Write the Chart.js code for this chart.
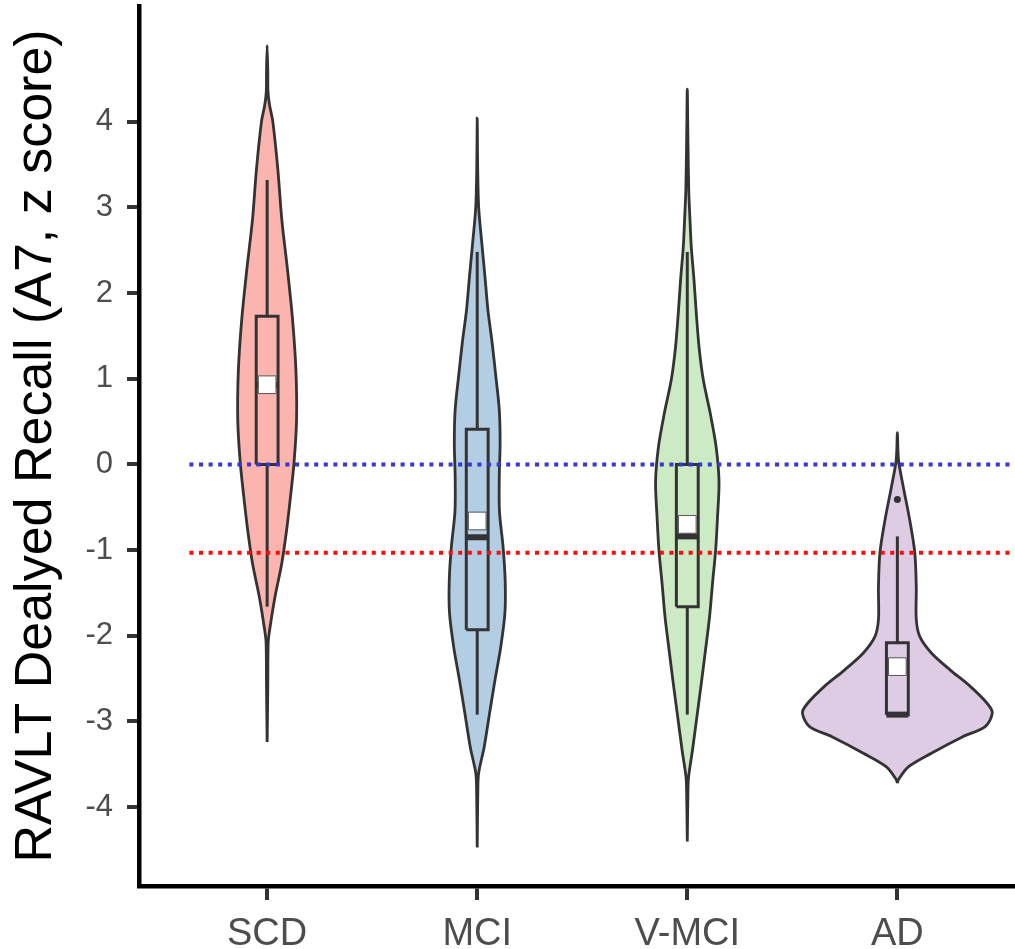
<!DOCTYPE html>
<html>
<head>
<meta charset="utf-8">
<script src="https://cdn.jsdelivr.net/npm/chart.js@4.4.1/dist/chart.umd.min.js"></script>
<style>
  html, body { margin: 0; padding: 0; background: #ffffff; overflow: hidden; }
  #wrap { width: 1015px; height: 949px; position: relative; overflow: hidden; }
  canvas { display: block; }
</style>
</head>
<body>
<div id="wrap"><canvas id="c" width="1015" height="949"></canvas></div>
<script>
// ---------------- data ----------------
const categories = ['SCD', 'MCI', 'V-MCI', 'AD'];
const yTicks = [-4, -3, -2, -1, 0, 1, 2, 3, 4];
const yTitle = 'RAVLT Dealyed Recall (A7, z score)';

// violin outlines: score levels (top to bottom) and density half-widths (category units)
const scdLevels = [4.89, 4.60, 4.35, 4.20, 4.00, 3.44, 2.85, 2.27, 1.69, 1.10, 0.52, 0.02, -0.38, -0.76, -1.15, -1.55, -1.93, -2.08, -2.60, -3.24];
const scdHalfWidth = [0, 0.003, 0.004, 0.011, 0.027, 0.051, 0.070, 0.097, 0.121, 0.137, 0.140, 0.128, 0.111, 0.093, 0.070, 0.037, 0.012, 0.005, 0.003, 0];

const mciLevels = [4.04, 3.50, 3.00, 2.58, 2.19, 1.80, 1.42, 1.02, 0.64, 0.25, -0.14, -0.55, -0.96, -1.35, -1.73, -2.13, -2.51, -2.90, -3.30, -3.60, -3.80, -4.47];
const mciHalfWidth = [0, 0.002, 0.007, 0.022, 0.037, 0.051, 0.071, 0.089, 0.105, 0.109, 0.105, 0.106, 0.123, 0.133, 0.132, 0.112, 0.085, 0.059, 0.033, 0.007, 0.003, 0];

const vmciLevels = [4.38, 3.80, 3.20, 2.90, 2.54, 2.15, 1.76, 1.37, 0.99, 0.60, 0.21, -0.20, -0.61, -1.00, -1.39, -1.78, -2.16, -2.55, -2.94, -3.33, -3.65, -3.85, -4.40];
const vmciHalfWidth = [0, 0.003, 0.007, 0.012, 0.019, 0.032, 0.043, 0.056, 0.076, 0.109, 0.137, 0.151, 0.144, 0.135, 0.120, 0.106, 0.087, 0.067, 0.046, 0.025, 0.006, 0.003, 0];

const adLevels = [0.37, 0.15, 0.02, -0.26, -0.65, -1.03, -1.43, -1.81, -2.01, -2.20, -2.40, -2.59, -2.79, -2.90, -3.06, -3.18, -3.37, -3.53, -3.68, -3.72];
const adHalfWidth = [0, 0.003, 0.007, 0.028, 0.059, 0.083, 0.090, 0.090, 0.107, 0.162, 0.252, 0.347, 0.428, 0.452, 0.418, 0.309, 0.162, 0.052, 0.005, 0];

// box-plot statistics per category
const boxQ1 = [0.00, -1.93, -1.66, -2.92];
const boxQ3 = [1.73, 0.41, 0.00, -2.08];
const boxMedian = [0.93, -0.85, -0.84, -2.92];
const boxMean = [0.93, -0.66, -0.70, -2.36];
const whiskerLow = [-1.66, -2.92, -2.92, -2.92];
const whiskerHigh = [3.32, 2.48, 2.48, -0.84];
const outlierCategory = [4];
const outlierValue = [-0.41];

// reference lines
const refLineValues = [0, -1.03];
const refLineStart = 0.63;
const refLineEnd = 4.56;

// ---------------- styles ----------------
const fills = ['#FBB4AE', '#B3CDE3', '#CCEBC5', '#DECBE4'];
const refColors = ['#3535d8', '#ff0a0a'];
const ink = '#333333';
const FONT = '"Liberation Sans", Arial, Helvetica, sans-serif';
const X_MIN = 0.39, X_MAX = 4.56, Y_MIN = -4.92, Y_MAX = 5.35;
const BOX_HALF = 0.052;

const violinLevels = [scdLevels, mciLevels, vmciLevels, adLevels];
const violinWidths = [scdHalfWidth, mciHalfWidth, vmciHalfWidth, adHalfWidth];

function violinPath(c, levels, widths) {
  const lv = levels.slice().reverse();
  const wd = widths.slice().reverse();
  const right = lv.map((y, i) => ({ x: c + wd[i], y: y }));
  const left = lv.map((y, i) => ({ x: c - wd[i], y: y })).reverse();
  return right.concat(left.slice(1));
}

const datasets = [];
categories.forEach((name, i) => {
  const c = i + 1;
  datasets.push({
    data: violinPath(c, violinLevels[i], violinWidths[i]),
    borderColor: ink, backgroundColor: fills[i], borderWidth: 2.8,
    fill: 'shape', tension: 0.3, pointRadius: 0, order: 10
  });
  datasets.push({
    data: [{ x: c, y: boxQ3[i] }, { x: c, y: whiskerHigh[i] }],
    borderColor: ink, backgroundColor: ink, borderWidth: 3, pointRadius: 0, fill: false, order: 9
  });
  datasets.push({
    data: [{ x: c, y: whiskerLow[i] }, { x: c, y: boxQ1[i] }],
    borderColor: ink, backgroundColor: ink, borderWidth: 3, pointRadius: 0, fill: false, order: 9
  });
  datasets.push({
    data: [
      { x: c - BOX_HALF, y: boxQ1[i] }, { x: c + BOX_HALF, y: boxQ1[i] },
      { x: c + BOX_HALF, y: boxQ3[i] }, { x: c - BOX_HALF, y: boxQ3[i] },
      { x: c - BOX_HALF, y: boxQ1[i] }
    ],
    borderColor: ink, backgroundColor: ink, borderWidth: 3, pointRadius: 0, fill: false, tension: 0,
    borderJoinStyle: 'miter', order: 8
  });
  datasets.push({
    data: [{ x: c - BOX_HALF, y: boxMedian[i] }, { x: c + BOX_HALF, y: boxMedian[i] }],
    borderColor: ink, backgroundColor: ink, borderWidth: 6, pointRadius: 0, fill: false, borderCapStyle: 'butt', order: 7
  });
  datasets.push({
    data: [{ x: c, y: boxMean[i] }],
    showLine: false, borderColor: '#555555', backgroundColor: '#ffffff', borderWidth: 0,
    pointStyle: 'rect', pointRadius: 12.5,
    pointBackgroundColor: '#ffffff', pointBorderColor: '#555555', pointBorderWidth: 1, order: 6
  });
});
datasets.push({
  data: outlierCategory.map((c, k) => ({ x: c, y: outlierValue[k] })),
  showLine: false, borderColor: ink, backgroundColor: ink, borderWidth: 0,
  pointStyle: 'circle', pointRadius: 3.5,
  pointBackgroundColor: ink, pointBorderColor: ink, pointBorderWidth: 0, order: 6
});
refLineValues.forEach((v, k) => {
  datasets.push({
    data: [{ x: refLineStart, y: v }, { x: refLineEnd, y: v }],
    borderColor: refColors[k], backgroundColor: refColors[k], borderWidth: 4, borderDash: [4, 5.6], borderCapStyle: 'butt',
    pointRadius: 0, fill: false, order: 1
  });
});

new Chart(document.getElementById('c'), {
  type: 'line',
  data: { datasets: datasets },
  options: {
    responsive: false,
    animation: false,
    devicePixelRatio: 1,
    layout: { autoPadding: false, padding: { top: 6, left: 0, right: 0, bottom: 0 } },
    plugins: { legend: { display: false }, tooltip: { enabled: false }, title: { display: false }, colors: { enabled: false } },
    elements: { point: { hitRadius: 0, hoverRadius: 0 } },
    scales: {
      x: {
        type: 'linear', min: X_MIN, max: X_MAX,
        afterBuildTicks: (s) => { s.ticks = categories.map((_, i) => ({ value: i + 1 })); },
        afterFit: (s) => { s.height = 63; s.paddingLeft = 0; s.paddingRight = 0; },
        ticks: {
          callback: (v) => categories[Math.round(v) - 1] || '',
          color: '#4d4d4d', font: { family: FONT, size: 38 }, padding: 12,
          autoSkip: false, maxRotation: 0, minRotation: 0
        },
        grid: { drawOnChartArea: false, drawTicks: true, tickLength: 14, color: 'rgba(0,0,0,0)', tickColor: ink, lineWidth: 4 },
        border: { display: true, color: '#000000', width: 4.5 }
      },
      y: {
        type: 'linear', min: Y_MIN, max: Y_MAX,
        afterBuildTicks: (s) => { s.ticks = yTicks.map(v => ({ value: v })); },
        afterFit: (s) => { s.width = 139; s.paddingTop = 0; s.paddingBottom = 0; },
        ticks: { color: '#4d4d4d', font: { family: FONT, size: 31 }, padding: 14 },
        grid: { drawOnChartArea: false, drawTicks: true, tickLength: 12, color: 'rgba(0,0,0,0)', tickColor: ink, lineWidth: 4 },
        border: { display: true, color: '#000000', width: 4.5 },
        title: { display: true, text: yTitle, color: '#000000', font: { family: FONT, size: 52 }, padding: { top: 5, bottom: 0 } }
      }
    }
  }
});
</script>
</body>
</html>
